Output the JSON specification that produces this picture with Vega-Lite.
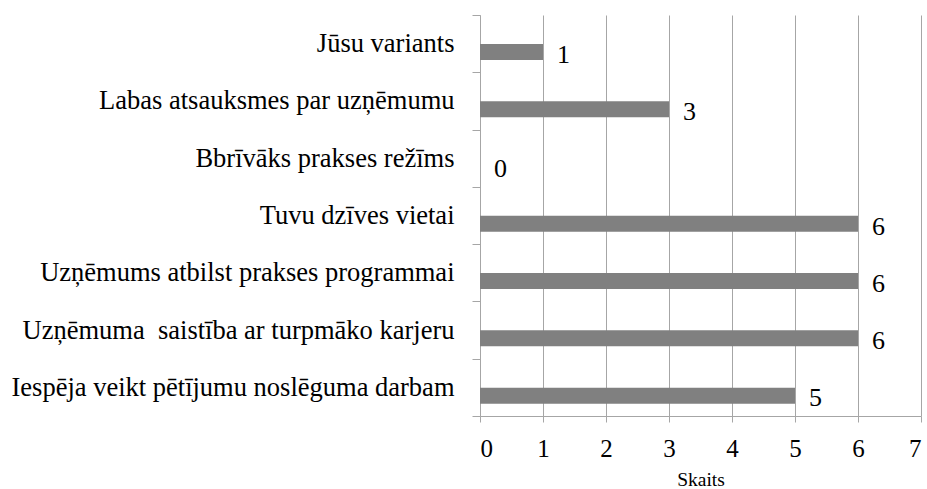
{
  "$schema": "https://vega.github.io/schema/vega-lite/v6.json",
  "width": 441,
  "height": 401,
  "autosize": {"type": "none"},
  "padding": {"left": 480, "top": 15, "right": 6, "bottom": 73},
  "background": "white",
  "config": {"view": {"stroke": null}, "font": "Liberation Serif"},
  "data": {"values": [
    {"cat": "Jūsu variants", "v": 1},
    {"cat": "Labas atsauksmes par uzņēmumu ", "v": 3},
    {"cat": "Bbrīvāks prakses režīms", "v": 0},
    {"cat": "Tuvu dzīves vietai", "v": 6},
    {"cat": "Uzņēmums atbilst prakses programmai", "v": 6},
    {"cat": "Uzņēmuma \u00a0saistība ar turpmāko karjeru", "v": 6},
    {"cat": "Iespēja veikt pētījumu noslēguma darbam", "v": 5}
  ]},
  "encoding": {
    "y": {
      "field": "cat", "type": "nominal", "sort": null,
      "scale": {"paddingInner": 0, "paddingOuter": 0},
      "axis": {
        "title": null, "tickBand": "extent", "tickSize": 8, "tickColor": "#a6a6a6",
        "domainColor": "#a6a6a6", "labelFont": "Liberation Serif", "labelFontSize": 26.5,
        "labelColor": "black", "labelPadding": 18, "labelLimit": 0
      }
    },
    "x": {
      "field": "v", "type": "quantitative",
      "scale": {"domain": [0, 7], "nice": false},
      "axis": {
        "values": [0, 1, 2, 3, 4, 5, 6, 7], "grid": true, "gridColor": "#a6a6a6",
        "tickColor": "#a6a6a6", "tickSize": 6, "domainColor": "#a6a6a6",
        "labelFont": "Liberation Serif", "labelFontSize": 25, "labelColor": "black",
        "labelPadding": 14, "title": "Skaits", "titleFont": "Liberation Serif",
        "titleFontSize": 19.5, "titleFontWeight": "normal", "titleColor": "black", "titlePadding": 9
      }
    }
  },
  "layer": [
    {"mark": {"type": "bar", "height": 16, "yOffset": 8.3, "color": "#808080"}},
    {"mark": {"type": "text", "align": "left", "baseline": "alphabetic", "dx": 14, "yOffset": 19, "fontSize": 26, "font": "Liberation Serif", "color": "black"},
     "encoding": {"text": {"field": "v", "type": "quantitative"}}}
  ]
}
